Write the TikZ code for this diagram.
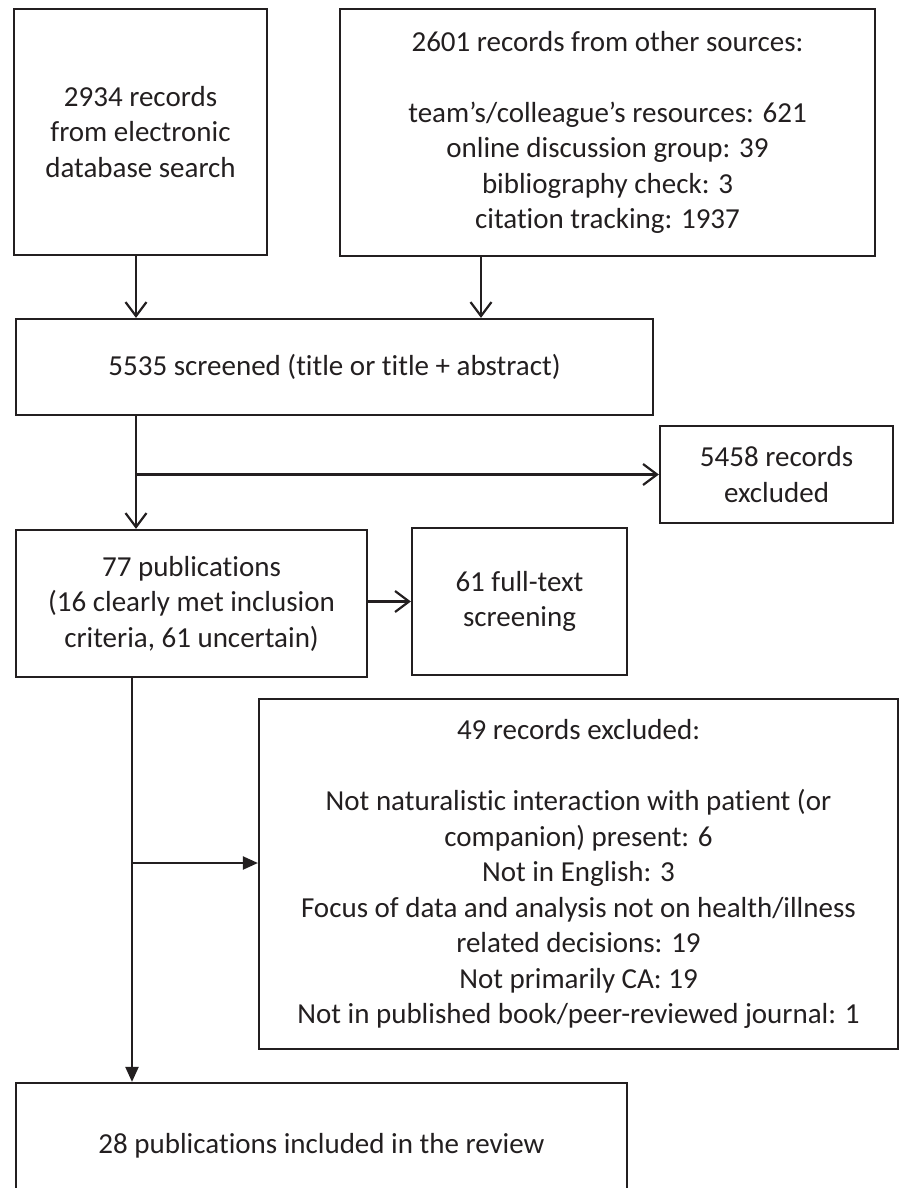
\documentclass[tikz,border=0pt]{standalone}
\usepackage{fontspec}
\setmainfont{Carlito}[Ligatures=NoCommon]
\usetikzlibrary{arrows.meta,calc}
\definecolor{ink}{RGB}{35,31,32}
\begin{document}
\begin{tikzpicture}[x=1pt,y=-1pt,
  box/.style={draw=ink, line width=2.2pt, rectangle, inner sep=0pt, align=center,
    text=ink, font=\fontsize{29pt}{35.5pt}\selectfont},
  va/.style={draw=ink, line width=2.2pt, -{Straight Barb[length=14pt,width=21pt,line width=2.2pt]}},
  ta/.style={draw=ink, line width=2.2pt, -{Triangle[length=15pt,width=13pt]}}]
\useasboundingbox (0,0) rectangle (901,1188);
\clip (0,0) rectangle (901,1188);
\node[box, minimum width=253pt, minimum height=246pt] (A) at (140.5,132)
  {2934 records\\from electronic\\database search};
\node[box, minimum width=535pt, minimum height=247pt] (B) at (607.5,132.5)
  {2601 records from other sources:\\[35.5pt]team’s/colleague’s resources: 621\\online discussion group: 39\\bibliography check: 3\\citation tracking: 1937};
\node[box, minimum width=637pt, minimum height=96pt] (C) at (334.5,367)
  {5535 screened (title or title + abstract)};
\node[box, minimum width=233pt, minimum height=97pt] (D) at (776.5,474.5)
  {5458 records\\excluded};
\node[box, minimum width=351pt, minimum height=147pt] (E) at (191.5,603.5)
  {77 publications\\(16 clearly met inclusion\\criteria, 61 uncertain)};
\node[box, minimum width=215pt, minimum height=147pt] (F) at (519.5,601.5)
  {61 full-text\\screening};
\node[box, minimum width=639pt, minimum height=350pt] (G) at (578.5,874)
  {49 records excluded:\\[35.5pt]Not naturalistic interaction with patient (or\\companion) present: 6\\Not in English: 3\\Focus of data and analysis not on health/illness\\related decisions: 19\\Not primarily CA: 19\\Not in published book/peer-reviewed journal: 1};
\node[box, minimum width=611pt, minimum height=126pt] (H) at (321.5,1146)
  {28 publications included in the review};
\coordinate (xa) at (136,0);
\coordinate (xb) at (481,0);
\coordinate (xc) at (132,0);
\coordinate (j1) at (136,474.5);
\coordinate (j2) at (132,863);
\draw[va] (A.south -| xa) -- (C.north -| xa);
\draw[va] (B.south -| xb) -- (C.north -| xb);
\draw[va] (C.south -| xa) -- (E.north -| xa);
\draw[va] (j1) -- (D.west);
\draw[va] (E.east |- F.west) -- (F.west);
\draw[ta] (E.south -| xc) -- (H.north -| xc);
\draw[ta] (j2) -- (j2 -| G.west);
\end{tikzpicture}
\end{document}
